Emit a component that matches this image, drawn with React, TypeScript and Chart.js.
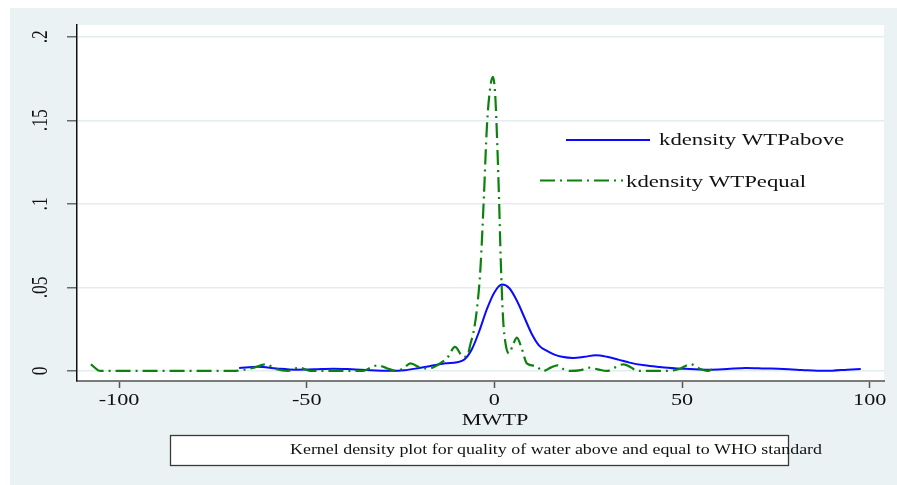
import React, { useEffect, useRef } from "react";
import { Chart, registerables } from "chart.js";

Chart.register(...registerables);

// ---- Data ----
const aboveX = [-68, -63, -58, -53, -48, -43, -38, -33, -28, -24, -20, -16, -13, -10, -8, -6, -4, -2, 0, 2, 4, 6, 8, 10, 12, 14, 16, 18, 21, 24, 27, 30, 33, 36, 40, 44, 48, 52, 57, 62, 67, 72, 77, 82, 86, 90, 94, 97.6];
const aboveY = [0.0018, 0.0026, 0.0015, 0.0008, 0.001, 0.0014, 0.001, 0.0004, 0.0001, 0.0004, 0.0018, 0.0034, 0.0046, 0.0052, 0.0068, 0.013, 0.024, 0.037, 0.047, 0.0517, 0.0495, 0.042, 0.032, 0.022, 0.015, 0.012, 0.0098, 0.0085, 0.0078, 0.0085, 0.0094, 0.0085, 0.0068, 0.005, 0.0034, 0.0024, 0.0016, 0.0012, 0.0008, 0.0012, 0.0018, 0.0015, 0.0012, 0.0006, 0.0001, 0.0002, 0.0008, 0.0012];

const equalX = [-107.5, -105, -100, -90, -80, -70, -64, -61, -58, -55, -52, -49, -45, -40, -35, -33, -31, -28.5, -26, -24, -22.4, -19, -16.5, -14.5, -12.5, -10.5, -8.3, -7.2, -6.4, -5.5, -4.5, -3.7, -2.8, -2, -1.2, -0.4, 0.2, 0.6, 1.2, 1.7, 2.3, 3, 3.9, 5, 6, 7.2, 8.7, 11, 13, 15, 16.8, 18.5, 20, 23, 25, 27.5, 30, 32, 34.4, 36.5, 38, 42, 46, 49, 52.3, 55, 56.8, 58.4];
const equalY = [0.004, 0, 0, 0, 0, 0, 0.002, 0.004, 0.001, 0, 0.002, 0, 0, 0, 0, 0.002, 0.0034, 0.0015, 0, 0.002, 0.0045, 0.0015, 0.002, 0.0045, 0.008, 0.0144, 0.0085, 0.009, 0.016, 0.024, 0.04, 0.062, 0.104, 0.146, 0.168, 0.176, 0.166, 0.146, 0.106, 0.066, 0.032, 0.016, 0.0105, 0.016, 0.02, 0.014, 0.0044, 0.003, 0, 0.002, 0.0034, 0.001, 0, 0.0005, 0.002, 0.001, 0, 0.002, 0.004, 0.002, 0, 0, 0, 0.001, 0.004, 0.001, 0, 0.0015];

const xTicks = [-100, -50, 0, 50, 100];
const xTickLabels = ["-100", "-50", "0", "50", "100"];
const yTicks = [0, 0.05, 0.1, 0.15, 0.2];
const yTickLabels = ["0", ".05", ".1", ".15", ".2"];
const seriesNames = ["kdensity WTPabove", "kdensity WTPequal"];
const xTitle = "MWTP";
const caption = "Kernel density plot for quality of water above and equal to WHO standard";

// ---- Styles ----
const SERIF = "'Liberation Serif', 'Times New Roman', serif";
const BG = "#EAF2F3";
const BLUE = "#0a0aff";
const GREEN = "#0b820b";
const DASH = [15, 5, 2, 5];
const TEXT = "#111111";

function stretchText(ctx: CanvasRenderingContext2D, text: string, x: number, y: number, size: number, sx: number, align: CanvasTextAlign) {
  ctx.save();
  ctx.translate(x, y);
  ctx.scale(sx, 1);
  ctx.font = `${size}px ${SERIF}`;
  ctx.textAlign = align;
  ctx.textBaseline = "alphabetic";
  ctx.fillStyle = TEXT;
  ctx.fillText(text, 0, 0);
  ctx.restore();
}

const decorPlugin = {
  id: "stataDecor",
  beforeDraw(chart: any) {
    const { ctx, chartArea, width, height } = chart;
    ctx.save();
    ctx.fillStyle = "#ffffff";
    ctx.fillRect(0, 0, width, height);
    ctx.fillStyle = BG;
    ctx.fillRect(10, 8, width - 10, height - 8);
    ctx.fillStyle = "#ffffff";
    ctx.fillRect(chartArea.left, chartArea.top, chartArea.right - chartArea.left, chartArea.bottom - chartArea.top);
    ctx.restore();
  },
  afterDraw(chart: any) {
    const ctx: CanvasRenderingContext2D = chart.ctx;
    const xs = chart.scales.x;
    const ys = chart.scales.y;

    // x tick labels
    xTicks.forEach((v, i) => {
      stretchText(ctx, xTickLabels[i], xs.getPixelForValue(v), 405, 17.5, 1.27, "center");
    });
    // x title
    stretchText(ctx, xTitle, 495, 425, 17.5, 1.27, "center");

    // y tick labels (vertical, reading upward)
    yTicks.forEach((v, i) => {
      const py = ys.getPixelForValue(v);
      ctx.save();
      ctx.translate(47, py);
      ctx.scale(1.27, 1);
      ctx.rotate(-Math.PI / 2);
      ctx.font = `17.5px ${SERIF}`;
      ctx.textAlign = "center";
      ctx.textBaseline = "alphabetic";
      ctx.fillStyle = TEXT;
      ctx.fillText(yTickLabels[i], 0, 0);
      ctx.restore();
    });

    // legend
    ctx.save();
    ctx.lineWidth = 2;
    ctx.strokeStyle = BLUE;
    ctx.beginPath();
    ctx.moveTo(566, 140);
    ctx.lineTo(650, 140);
    ctx.stroke();
    ctx.strokeStyle = GREEN;
    ctx.setLineDash(DASH);
    ctx.beginPath();
    ctx.moveTo(540, 180.5);
    ctx.lineTo(623, 180.5);
    ctx.stroke();
    ctx.restore();
    stretchText(ctx, seriesNames[0], 659, 145, 17.5, 1.3, "left");
    stretchText(ctx, seriesNames[1], 626, 186.5, 17.5, 1.3, "left");

    // caption box
    ctx.save();
    ctx.fillStyle = "#ffffff";
    ctx.fillRect(170.5, 435.5, 618, 30);
    ctx.strokeStyle = "#3a3a3a";
    ctx.lineWidth = 1.3;
    ctx.strokeRect(170.5, 435.5, 618, 30);
    ctx.font = `15.5px ${SERIF}`;
    const cw = ctx.measureText(caption).width;
    ctx.restore();
    stretchText(ctx, caption, 290, 454, 15.5, 532 / cw, "left");
  },
};

export default function App() {
  const canvasRef = useRef<HTMLCanvasElement | null>(null);

  useEffect(() => {
    const canvas = canvasRef.current;
    if (!canvas) return;
    const chart = new Chart(canvas, {
      type: "line",
      data: {
        datasets: [
          {
            label: seriesNames[0],
            data: aboveX.map((x, i) => ({ x, y: aboveY[i] })),
            borderColor: BLUE,
            borderWidth: 2,
            pointRadius: 0,
            fill: false,
            cubicInterpolationMode: "monotone",
            order: 1,
          },
          {
            label: seriesNames[1],
            data: equalX.map((x, i) => ({ x, y: equalY[i] })),
            borderColor: GREEN,
            borderWidth: 2.2,
            borderDash: DASH,
            pointRadius: 0,
            fill: false,
            cubicInterpolationMode: "monotone",
            order: 0,
          },
        ],
      },
      options: {
        animation: false,
        responsive: false,
        devicePixelRatio: 1,
        layout: { padding: { top: 25, right: 13, bottom: 0, left: 0 } },
        plugins: {
          legend: { display: false },
          tooltip: { enabled: false },
        },
        scales: {
          x: {
            type: "linear",
            min: -111.2,
            max: 103.8,
            afterBuildTicks: (s: any) => {
              s.ticks = xTicks.map((v) => ({ value: v }));
            },
            afterFit: (s: any) => {
              s.height = 104;
            },
            ticks: { display: false },
            grid: {
              drawOnChartArea: false,
              drawTicks: true,
              tickLength: 7,
              tickColor: "#555555",
              tickWidth: 1.5,
            },
            border: { display: true, color: "#7a7a7a", width: 2 },
          },
          y: {
            type: "linear",
            min: -0.006,
            max: 0.207,
            afterBuildTicks: (s: any) => {
              s.ticks = yTicks.map((v) => ({ value: v }));
            },
            afterFit: (s: any) => {
              s.width = 77;
            },
            ticks: { display: false },
            grid: {
              drawOnChartArea: true,
              color: "#E3ECEE",
              lineWidth: 1.5,
              drawTicks: true,
              tickLength: 10,
              tickColor: "#6a6a6a",
              tickWidth: 1.5,
            },
            border: { display: true, color: "#111111", width: 1.5 },
          },
        },
      },
      plugins: [decorPlugin],
    } as any);
    return () => chart.destroy();
  }, []);

  return (
    <div style={{ position: "absolute", left: 0, top: 0, width: 897, height: 485 }}>
      <canvas ref={canvasRef} width={897} height={485} style={{ display: "block" }} />
    </div>
  );
}
